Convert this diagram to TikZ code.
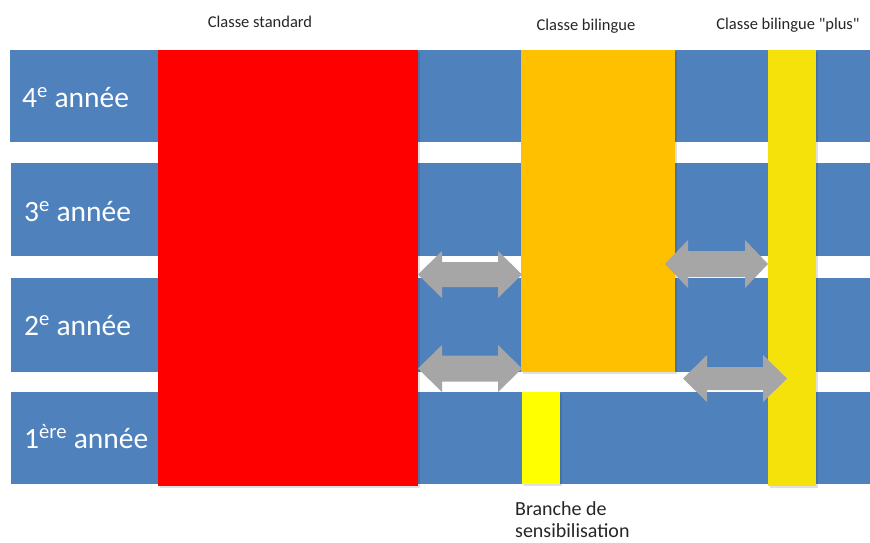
\documentclass[tikz,border=0pt]{standalone}
\usepackage{fontspec}
\setmainfont{Carlito}
\newfontfamily\rawfont{Carlito}[Ligatures=TeXOff]
\begin{document}
\begin{tikzpicture}[x=1pt,y=-1pt,
  band/.style={fill=bandblue,draw=none},
  col/.style={draw=none},
  yearlabel/.style={anchor=base west,text=white,font=\fontsize{29.5}{31}\selectfont,inner sep=0pt},
  head/.style={anchor=base,text=black!85,font=\rawfont\fontsize{16.5}{18}\selectfont,inner sep=0pt},
  arr/.style={fill=arrgray,draw=none},
  shadow/.style={fill=black,opacity=0.12,draw=none}]
\definecolor{bandblue}{HTML}{4F81BD}
\definecolor{arrgray}{HTML}{A6A6A6}
\definecolor{stdred}{HTML}{FF0000}
\definecolor{biorange}{HTML}{FFC000}
\definecolor{plusyellow}{HTML}{F5E20A}
\definecolor{sensyellow}{HTML}{FFFF00}
\useasboundingbox[fill=white] (0,0) rectangle (870,542);
% bands
\fill[band] (10,50) rectangle (870,142);
\fill[band] (11,163) rectangle (870,256);
\fill[band] (11,278) rectangle (870,372);
\fill[band] (11,392) rectangle (870,484);
% columns with slight shadow
\fill[shadow] (160,52) rectangle (420,488);
\node[col,fill=stdred,minimum width=260pt,minimum height=436pt,inner sep=0pt,anchor=north west] (std) at (158,50) {};
\fill[shadow] (523,52) rectangle (677,374);
\node[col,fill=biorange,minimum width=154pt,minimum height=322pt,inner sep=0pt,anchor=north west] (bil) at (521,50) {};
\fill[shadow] (770,52) rectangle (818,488);
\node[col,fill=plusyellow,minimum width=48pt,minimum height=436pt,inner sep=0pt,anchor=north west] (plus) at (768,50) {};
\fill[shadow] (524,394) rectangle (562,486);
\node[col,fill=sensyellow,minimum width=38pt,minimum height=92pt,inner sep=0pt,anchor=north west] (sens) at (522,392) {};
% year labels
\node[yearlabel] (y4) at (22,107) {4\textsuperscript{e} année};
\node[yearlabel] (y3) at (24,221) {3\textsuperscript{e} année};
\node[yearlabel] (y2) at (24,335) {2\textsuperscript{e} année};
\node[yearlabel] (y1) at (24,448) {1\textsuperscript{ère} année};
% headers
\node[head] (hstd) at (260,27) {Classe standard};
\node[head] (hbil) at (586,30) {Classe bilingue};
\node[head] (hplus) at (788,29) {Classe bilingue "plus"};
\node[anchor=north west,align=left,text=black!85,font=\fontsize{20}{22}\selectfont,inner sep=0pt] (lsens) at (515,501) {Branche de\\sensibilisation};
% double arrows
\newcommand\mydarr[6]{%
  \fill[arr] (#1,#3) -- (#1+#6,#3-#4) -- (#1+#6,#3-#5) -- (#2-#6,#3-#5) -- (#2-#6,#3-#4) -- (#2,#3)
   -- (#2-#6,#3+#4) -- (#2-#6,#3+#5) -- (#1+#6,#3+#5) -- (#1+#6,#3+#4) -- cycle;}
\mydarr{418}{522}{274.5}{23.5}{12.5}{24}
\mydarr{418}{522}{368.5}{23.5}{13}{24}
\mydarr{665}{768}{264}{24}{13}{23}
\mydarr{683}{787}{378.5}{23.5}{11.5}{24}
\end{tikzpicture}
\end{document}
